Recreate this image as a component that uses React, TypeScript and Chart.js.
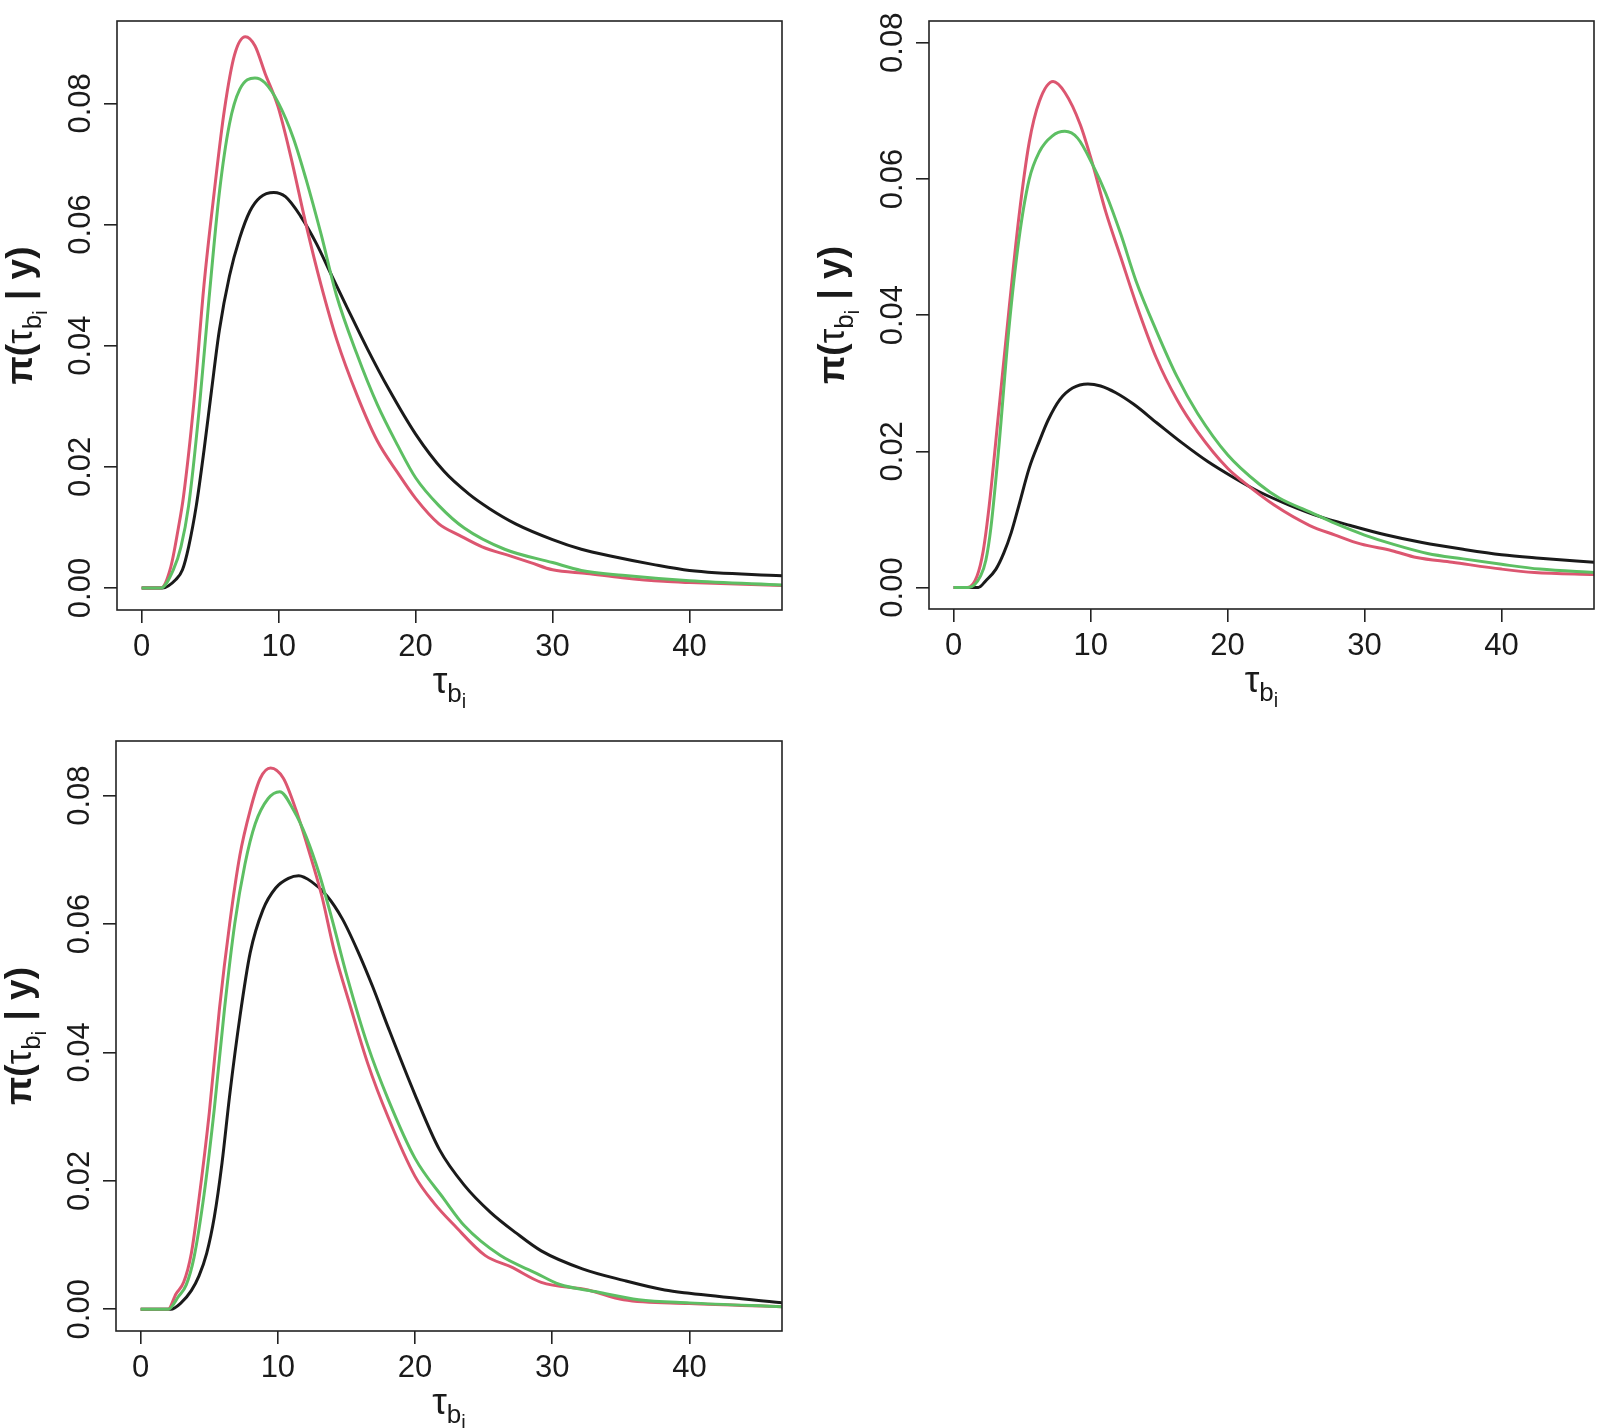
import React, { useEffect, useRef } from "react";
import { Chart, registerables } from "chart.js";
Chart.register(...registerables);

type Pt = [number, number];

const xTicks = [0, 10, 20, 30, 40];
const yTicks = [0, 0.02, 0.04, 0.06, 0.08];
const xRange: [number, number] = [-1.8, 46.75];

const p1Black: Pt[] = [[0,0],[1.5,0],[2.5,0.0014],[2.98,0.003],[3.43,0.0068],[3.99,0.0136],[4.55,0.0227],[5.1,0.0326],[5.67,0.0425],[6.41,0.0515],[7.16,0.0578],[7.9,0.0622],[8.65,0.0645],[9.65,0.0653],[10.5,0.0646],[11.6,0.0614],[12.75,0.0569],[13.87,0.0516],[15.0,0.0463],[16.5,0.0394],[18.0,0.0330],[20.0,0.0254],[22.06,0.0193],[23.9,0.0155],[25.4,0.0131],[27.3,0.0106],[30.0,0.008],[32.1,0.0064],[34.4,0.0052],[37.3,0.0039],[40,0.0029],[46.8,0.002]];
const p1Red: Pt[] = [[0,0],[1.4,0],[2.12,0.0034],[2.68,0.0099],[3.06,0.0152],[3.8,0.0303],[4.55,0.05],[5.29,0.0652],[6.04,0.0789],[6.78,0.088],[7.57,0.091],[8.27,0.0895],[9.02,0.0849],[9.95,0.0795],[10.88,0.0713],[12.0,0.06],[13.1,0.05],[14.24,0.041],[15.73,0.0318],[17.2,0.0243],[18.7,0.019],[20.0,0.0148],[21.7,0.0106],[23.2,0.0087],[24.86,0.0068],[26.9,0.0053],[28.4,0.0042],[30.0,0.003],[32.5,0.0024],[35.1,0.0017],[38.1,0.0011],[40,0.0009],[46.8,0.0004]];
const p1Green: Pt[] = [[0,0],[1.4,0],[2.31,0.003],[2.87,0.0068],[3.43,0.0136],[4.17,0.0288],[4.92,0.0478],[5.67,0.0652],[6.41,0.0766],[7.16,0.0823],[8.27,0.0842],[9.0,0.0834],[10.0,0.08],[11.07,0.0743],[12.0,0.0675],[13.1,0.0584],[14.2,0.0485],[15.7,0.0387],[17.2,0.0303],[18.7,0.0235],[20.0,0.0182],[21.7,0.0136],[23.55,0.0099],[26.5,0.0064],[30.0,0.0042],[32.1,0.0029],[35.1,0.0021],[40,0.0012],[46.8,0.0005]];

const p2Black: Pt[] = [[0,0],[1.8,0],[2.35,0.001],[3.09,0.0027],[3.65,0.005],[4.21,0.0081],[4.77,0.0121],[5.51,0.0175],[6.26,0.0215],[6.9,0.0246],[7.75,0.0276],[8.68,0.0293],[9.8,0.0299],[10.73,0.0296],[11.84,0.0286],[13.15,0.0269],[14.82,0.0242],[16.7,0.0212],[18.55,0.0185],[20.4,0.0162],[22.27,0.0141],[24.5,0.0121],[26.74,0.0104],[28.97,0.0091],[31.6,0.0077],[34.2,0.0066],[37.2,0.0056],[40,0.0048],[42.8,0.0043],[46.8,0.0037]];
const p2Red: Pt[] = [[0,0],[1.0,0],[1.71,0.0017],[2.16,0.0054],[2.6,0.0121],[3.28,0.0256],[4.02,0.0404],[4.77,0.0545],[5.51,0.0653],[6.26,0.0714],[7.26,0.0743],[8.12,0.0727],[9.24,0.068],[10.17,0.062],[11.1,0.0552],[12.2,0.0485],[13.3,0.0418],[14.8,0.0337],[16.3,0.0276],[17.8,0.0229],[20.0,0.0175],[21.15,0.0155],[23.4,0.0121],[26.0,0.0091],[27.86,0.0077],[29.7,0.0064],[32,0.0054],[33.8,0.0044],[36.4,0.0037],[40,0.0027],[42.4,0.0022],[46.8,0.0019]];
const p2Green: Pt[] = [[0,0],[1.1,0],[1.97,0.0017],[2.35,0.004],[2.72,0.0088],[3.28,0.0202],[4.02,0.0377],[4.77,0.0512],[5.51,0.0599],[6.26,0.064],[7.19,0.0663],[8.12,0.067],[9.05,0.066],[10.17,0.062],[11.1,0.0579],[12.2,0.0519],[13.3,0.0451],[14.8,0.0377],[16.3,0.031],[17.8,0.0256],[20.0,0.0195],[22.3,0.0152],[23.8,0.0131],[26.0,0.0111],[27.86,0.0094],[30.0,0.0077],[32,0.0064],[34.6,0.005],[37.2,0.0042],[40,0.0034],[42.8,0.0027],[46.8,0.0022]];

const p3Black: Pt[] = [[0,0],[2.2,0],[2.94,0.001],[3.69,0.0029],[4.25,0.0052],[4.81,0.0087],[5.37,0.0144],[5.93,0.0228],[6.49,0.0334],[7.23,0.0455],[7.98,0.0555],[8.91,0.0622],[9.84,0.0656],[10.77,0.0671],[11.52,0.0675],[12.45,0.0666],[13.57,0.0644],[14.7,0.0608],[15.8,0.0559],[16.9,0.0503],[18.04,0.0439],[20.0,0.0334],[21.77,0.0249],[23.6,0.0193],[25.5,0.0151],[27.36,0.0119],[29.2,0.0091],[32.2,0.0063],[35.2,0.0045],[38.2,0.003],[40,0.0025],[46.8,0.001]];
const p3Red: Pt[] = [[0,0],[2.0,0],[2.57,0.0024],[3.13,0.0042],[3.69,0.0087],[4.25,0.0172],[5.0,0.0306],[5.74,0.0468],[6.49,0.0601],[7.23,0.0707],[7.98,0.0777],[8.72,0.0827],[9.47,0.0843],[10.4,0.0827],[11.33,0.0777],[12.26,0.0714],[13.2,0.0644],[14.1,0.0559],[15.24,0.0475],[16.55,0.0383],[18.04,0.0299],[20.0,0.0207],[21.4,0.0165],[22.9,0.013],[25.1,0.0084],[27.0,0.0066],[29.2,0.0042],[32.6,0.003],[35.2,0.0015],[40,0.0009],[46.8,0.0004]];
const p3Green: Pt[] = [[0,0],[2.0,0],[2.76,0.002],[3.32,0.0038],[3.88,0.008],[4.62,0.0179],[5.37,0.0313],[6.11,0.0468],[6.86,0.0601],[7.6,0.0693],[8.35,0.0756],[9.28,0.0795],[10.14,0.0806],[11.15,0.0777],[12.08,0.0735],[13.0,0.0679],[13.94,0.0608],[15.06,0.0517],[16.55,0.0411],[18.04,0.0327],[20.0,0.0235],[22.1,0.0172],[23.6,0.013],[26.2,0.0084],[28.85,0.0056],[30.5,0.0039],[33.3,0.0027],[36.3,0.0015],[40,0.001],[46.8,0.0004]];

const BLACK = "#1a1a1a";
const RED = "#DC5670";
const GREEN = "#5DBF63";
const FONT = '"Liberation Sans", Arial, Helvetica, sans-serif';

type Seg = { t: string; size: number; bold?: boolean; dy?: number };

function drawSegs(ctx: CanvasRenderingContext2D, segs: Seg[]) {
  let total = 0;
  const widths: number[] = [];
  for (const s of segs) {
    ctx.font = `${s.bold ? "bold " : ""}${s.size}px ${FONT}`;
    const w = ctx.measureText(s.t).width;
    widths.push(w);
    total += w;
  }
  let x = -total / 2;
  segs.forEach((s, i) => {
    ctx.font = `${s.bold ? "bold " : ""}${s.size}px ${FONT}`;
    ctx.fillText(s.t, x, s.dy || 0);
    x += widths[i];
  });
}

const xTitle: Seg[] = [
  { t: "\u03c4", size: 37 },
  { t: "b", size: 26, dy: 9 },
  { t: "i", size: 20, dy: 15 },
];
const yTitle: Seg[] = [
  { t: "\u03c0(", size: 37, bold: true },
  { t: "\u03c4", size: 37 },
  { t: "b", size: 26, dy: 9 },
  { t: "i", size: 20, dy: 15 },
  { t: " | y)", size: 37, bold: true },
];

const decor = {
  id: "decor",
  afterDraw(chart: any) {
    const { ctx, chartArea: a, scales } = chart;
    ctx.save();
    ctx.strokeStyle = "#222";
    ctx.lineWidth = 1.6;
    ctx.strokeRect(a.left, a.top, a.right - a.left, a.bottom - a.top);
    ctx.fillStyle = "#1a1a1a";
    ctx.textAlign = "left";
    ctx.textBaseline = "alphabetic";
    ctx.font = `31px ${FONT}`;
    for (const t of scales.x.ticks) {
      const s = String(t.value);
      const w = ctx.measureText(s).width;
      ctx.fillText(s, scales.x.getPixelForValue(t.value) - w / 2, a.bottom + 46);
    }
    for (const t of scales.y.ticks) {
      const s = Number(t.value).toFixed(2);
      const py = scales.y.getPixelForValue(t.value);
      ctx.save();
      ctx.translate(a.left - 27, py);
      ctx.rotate(-Math.PI / 2);
      const w = ctx.measureText(s).width;
      ctx.fillText(s, -w / 2, 0);
      ctx.restore();
    }
    ctx.save();
    ctx.translate((a.left + a.right) / 2, a.bottom + 83);
    drawSegs(ctx, xTitle);
    ctx.restore();
    ctx.save();
    ctx.translate(a.left - 85, (a.top + a.bottom) / 2);
    ctx.rotate(-Math.PI / 2);
    drawSegs(ctx, yTitle);
    ctx.restore();
    ctx.restore();
  },
};

type PanelProps = {
  left: number; top: number; w: number; h: number;
  area: { l: number; t: number; r: number; b: number };
  yRange: [number, number];
  black: Pt[]; red: Pt[]; green: Pt[];
};

function Panel(p: PanelProps) {
  const ref = useRef<HTMLCanvasElement>(null);
  useEffect(() => {
    const mk = (d: Pt[], c: string, order: number) => ({
      data: d.map(([x, y]) => ({ x, y })),
      borderColor: c,
      borderWidth: 3,
      pointRadius: 0,
      fill: false,
      cubicInterpolationMode: "monotone" as const,
      borderJoinStyle: "round" as const,
      order,
    });
    const gridOpt = { display: true, drawOnChartArea: false, drawTicks: true, tickLength: 13, color: "#222", lineWidth: 1.6 };
    const chart = new Chart(ref.current!, {
      type: "line",
      data: { datasets: [mk(p.black, BLACK, 2), mk(p.red, RED, 1), mk(p.green, GREEN, 0)] as any },
      options: {
        animation: false,
        responsive: false,
        devicePixelRatio: 1,
        layout: { padding: { left: 0, top: p.area.t, right: p.w - p.area.r, bottom: 0 } },
        plugins: { legend: { display: false }, tooltip: { enabled: false }, title: { display: false } },
        scales: {
          x: {
            type: "linear", min: xRange[0], max: xRange[1],
            grid: gridOpt as any, border: { display: false },
            ticks: { display: false },
            afterBuildTicks: (s: any) => { s.ticks = xTicks.map((v) => ({ value: v })); },
            afterFit: (s: any) => { s.height = p.h - p.area.b; },
          },
          y: {
            type: "linear", min: p.yRange[0], max: p.yRange[1],
            grid: gridOpt as any, border: { display: false },
            ticks: { display: false },
            afterBuildTicks: (s: any) => { s.ticks = yTicks.map((v) => ({ value: v })); },
            afterFit: (s: any) => { s.width = p.area.l; },
          },
        },
      } as any,
      plugins: [decor],
    });
    return () => chart.destroy();
  }, []);
  return (
    <canvas ref={ref} width={p.w} height={p.h}
      style={{ position: "absolute", left: p.left, top: p.top, width: p.w, height: p.h }} />
  );
}

export default function App() {
  return (
    <div style={{ position: "absolute", left: 0, top: 0, width: 1600, height: 1428, background: "#fff", overflow: "hidden" }}>
      <Panel left={0} top={0} w={800} h={714} area={{ l: 117, t: 21, r: 782, b: 610 }}
        yRange={[-0.00363, 0.0936]} black={p1Black} red={p1Red} green={p1Green} />
      <Panel left={800} top={0} w={800} h={714} area={{ l: 129, t: 21, r: 794, b: 609 }}
        yRange={[-0.00316, 0.0832]} black={p2Black} red={p2Red} green={p2Green} />
      <Panel left={0} top={714} w={800} h={714} area={{ l: 116, t: 27, r: 782, b: 617 }}
        yRange={[-0.00338, 0.0885]} black={p3Black} red={p3Red} green={p3Green} />
    </div>
  );
}
